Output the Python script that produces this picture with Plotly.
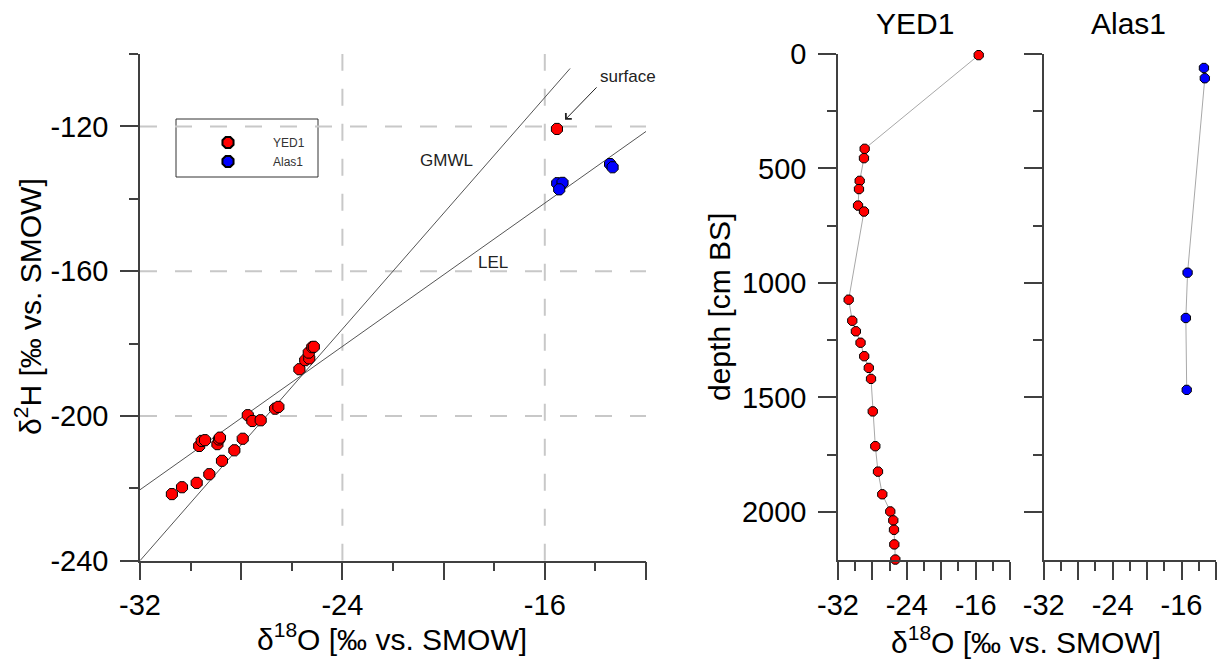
import plotly.graph_objects as go

# --- delta18O / delta2H pairs -------------------------------------------
yed1_d18o = [-30.74, -30.34, -29.76, -29.26, -28.76, -28.27, -27.94, -29.66,
             -29.56, -29.43, -28.94, -28.88, -28.84, -27.74, -27.56, -27.23,
             -26.66, -26.53, -25.70, -25.47, -25.31, -25.33, -25.19, -25.13,
             -15.52]
yed1_d2h = [-221.6, -219.7, -218.5, -216.1, -212.4, -209.5, -206.3, -208.3,
            -206.9, -206.7, -207.8, -206.5, -206.0, -199.8, -201.4, -201.2,
            -198.0, -197.5, -187.1, -184.6, -184.1, -182.5, -181.0, -180.9,
            -120.7]
alas1_d18o = [-15.51, -15.30, -15.43, -13.42, -13.32]
alas1_d2h = [-135.7, -135.6, -137.4, -130.4, -131.3]

# --- depth profiles --------------------------------------------------------
yed1_depth = [5, 414, 455, 554, 590, 662, 688, 1073, 1165, 1211, 1261, 1320,
              1371, 1419, 1561, 1713, 1824, 1923, 1998, 2037, 2078, 2142, 2208]
yed1_prof_d18o = [-15.64, -28.90, -28.98, -29.48, -29.56, -29.67, -28.98,
                  -30.76, -30.34, -29.92, -29.38, -28.95, -28.42, -28.16,
                  -27.96, -27.66, -27.35, -26.85, -25.92, -25.57, -25.49,
                  -25.45, -25.33]
alas1_depth = [61, 106, 955, 1153, 1467]
alas1_prof_d18o = [-13.4, -13.3, -15.3, -15.5, -15.4]

# --- reference lines: GMWL and local evaporation line ---------------------
gmwl_x = [-32, -15]
gmwl_slope, gmwl_icpt = 8.0, 16.0
lel_x = [-32, -12]
lel_slope, lel_icpt = 4.95, -62.0

# --- axis ticks ------------------------------------------------------------
x_tickvals = [-32, -28, -24, -20, -16, -12]
x_ticktext = ["-32", "", "-24", "", "-16", ""]
h_tickvals = [-240, -200, -160, -120]
h_ticktext = ["-240", "-200", "-160", "-120"]
depth_tickvals = [0, 500, 1000, 1500, 2000]
depth_ticktext = ["0", "500", "1000", "1500", "2000"]

FONT = "Liberation Sans, Arial, sans-serif"
RED, BLUE = "#ff0000", "#0000ff"
AXC = "#404040"
W, H = 1219, 660

fig = go.Figure()

# reference lines
fig.add_trace(go.Scatter(x=gmwl_x, y=[gmwl_slope * v + gmwl_icpt for v in gmwl_x],
                         mode="lines", line=dict(color="#555555", width=1),
                         showlegend=False, hoverinfo="skip", xaxis="x", yaxis="y"))
fig.add_trace(go.Scatter(x=lel_x, y=[lel_slope * v + lel_icpt for v in lel_x],
                         mode="lines", line=dict(color="#555555", width=1),
                         showlegend=False, hoverinfo="skip", xaxis="x", yaxis="y"))

mk = dict(symbol="octagon", size=12, line=dict(color="#000000", width=1))
fig.add_trace(go.Scatter(x=yed1_d18o, y=yed1_d2h, mode="markers", name="YED1",
                         marker=dict(color=RED, **mk), xaxis="x", yaxis="y"))
fig.add_trace(go.Scatter(x=alas1_d18o, y=alas1_d2h, mode="markers", name="Alas1",
                         marker=dict(color=BLUE, **mk), xaxis="x", yaxis="y"))

pmk = dict(symbol="octagon", size=10, line=dict(color="#000000", width=1))
fig.add_trace(go.Scatter(x=yed1_prof_d18o, y=yed1_depth, mode="lines+markers",
                         line=dict(color="#a8a8a8", width=1),
                         marker=dict(color=RED, **pmk), showlegend=False,
                         xaxis="x2", yaxis="y2", cliponaxis=False))
fig.add_trace(go.Scatter(x=alas1_prof_d18o, y=alas1_depth, mode="lines+markers",
                         line=dict(color="#a8a8a8", width=1),
                         marker=dict(color=BLUE, **pmk), showlegend=False,
                         xaxis="x3", yaxis="y3", cliponaxis=False))

tickfont = dict(family=FONT, size=29, color="#000000")


def xax(domain, anchor):
    return dict(domain=domain, anchor=anchor, range=[-32, -12], tickmode="array",
                tickvals=x_tickvals, ticktext=x_ticktext, ticks="outside",
                ticklen=18, tickwidth=1.5, tickcolor=AXC, showline=True,
                linecolor=AXC, linewidth=1.5, showgrid=False, zeroline=False,
                tickfont=tickfont, automargin=False,
                minor=dict(dtick=2, tick0=-32, ticks="outside", ticklen=9,
                           tickwidth=1.5, tickcolor=AXC, showgrid=False))


def yax(domain, anchor, rng, tv, tt, dminor, labels=True):
    return dict(domain=domain, anchor=anchor, range=rng, tickmode="array",
                tickvals=tv, ticktext=tt, ticks="outside", ticklen=18,
                tickwidth=1.5, tickcolor=AXC, showline=True, linecolor=AXC,
                linewidth=1.5, showgrid=False, zeroline=False, tickfont=tickfont,
                showticklabels=labels, ticklabelstandoff=6, automargin=False,
                minor=dict(dtick=dminor, tick0=min(rng), ticks="outside",
                           ticklen=9, tickwidth=1.5, tickcolor=AXC,
                           showgrid=False))


ydom = [1 - 560.7 / H, 1 - 54 / H]
ydom_r = [1 - 560 / H, 1 - 54 / H]
fig.update_layout(
    template="none",
    xaxis=xax([140 / W, 646 / W], "y"),
    yaxis=yax(ydom, "x", [-240, -100], h_tickvals, h_ticktext, 20),
    xaxis2=xax([838 / W, 1010 / W], "y2"),
    yaxis2=yax(ydom_r, "x2", [2210, 0], depth_tickvals, depth_ticktext, 250),
    xaxis3=xax([1043.7 / W, 1216 / W], "y3"),
    yaxis3=yax(ydom_r, "x3", [2210, 0], depth_tickvals, depth_ticktext, 250,
               labels=False),
)

# dashed guide lines
grid = dict(color="#c8c8c8", width=2, dash="17px,18px")
for gx in [-24, -16]:
    fig.add_shape(type="line", xref="x", yref="y", x0=gx, x1=gx, y0=-240, y1=-100,
                  line=grid, layer="below")
for gy in [-200, -160, -120]:
    fig.add_shape(type="line", xref="x", yref="y", x0=-32, x1=-12, y0=gy, y1=gy,
                  line=grid, layer="below")

# legend frame
fig.add_shape(type="rect", xref="paper", yref="paper",
              x0=176 / W, x1=318 / W, y0=1 - 177 / H, y1=1 - 119 / H,
              line=dict(color="#333333", width=1), fillcolor="white",
              layer="below")

ann = []
txt = dict(family=FONT, size=17, color="#222222")
ann.append(dict(x=-19.87, y=-129.3, xref="x", yref="y", text="GMWL",
                showarrow=False, font=txt))
ann.append(dict(x=-18.05, y=-157.5, xref="x", yref="y", text="LEL",
                showarrow=False, font=txt))
ann.append(dict(x=-12.71, y=-106.1, xref="x", yref="y", text="surface",
                showarrow=False, font=txt))
ann.append(dict(x=-15.2, y=-118.2, xref="x", yref="y", text="", showarrow=True,
                ax=33, ay=-34, arrowhead=4, arrowsize=1.6, arrowwidth=1,
                arrowcolor="#222222"))

big = dict(family=FONT, size=30, color="#000000")
pc = dict(xref="paper", yref="paper", xanchor="center", yanchor="middle",
          showarrow=False, font=big)
ann.append(dict(x=28 / W, y=1 - 307 / H, text="δ<sup>2</sup>H [‰ vs. SMOW]",
                textangle=-90, **pc))
ann.append(dict(x=392 / W, y=1 - 637 / H, text="δ<sup>18</sup>O [‰ vs. SMOW]",
                **pc))
ann.append(dict(x=720 / W, y=1 - 307 / H, text="depth [cm BS]", textangle=-90,
                **pc))
ann.append(dict(x=1026 / W, y=1 - 640 / H, text="δ<sup>18</sup>O [‰ vs. SMOW]",
                **pc))
ann.append(dict(x=915 / W, y=1 - 23 / H, text="YED1", **pc))
ann.append(dict(x=1128 / W, y=1 - 23 / H, text="Alas1", **pc))

fig.update_layout(
    width=W, height=H, margin=dict(l=0, r=0, t=0, b=0, autoexpand=False),
    paper_bgcolor="white", plot_bgcolor="white",
    annotations=ann,
    showlegend=True,
    legend=dict(x=176 / W, y=1 - 128 / H, xanchor="left", yanchor="top",
                borderwidth=0, bgcolor="rgba(0,0,0,0)",
                font=dict(family=FONT, size=12, color="#333333"),
                indentation=7, itemwidth=80, tracegroupgap=0,
                itemsizing="constant"),
)

fig.write_html("out.html")
